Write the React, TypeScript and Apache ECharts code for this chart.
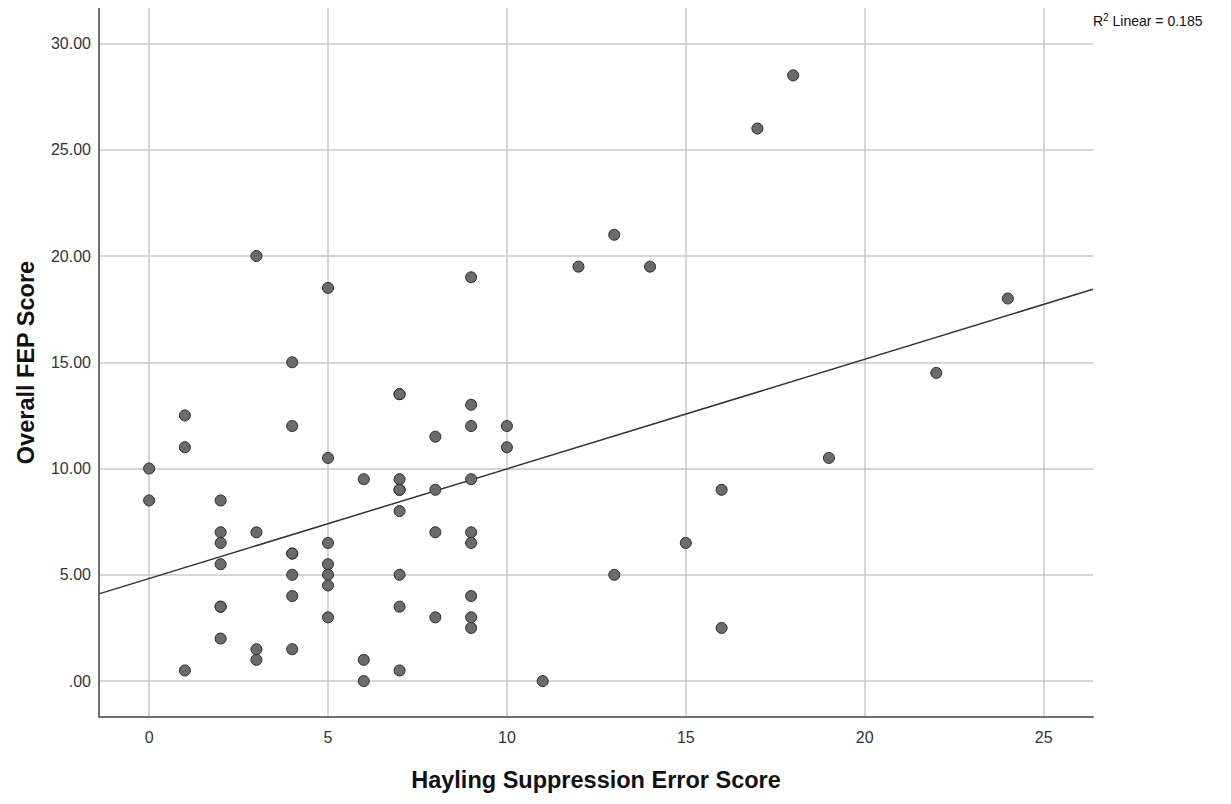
import React, { useEffect, useRef } from "react";
import * as echarts from "echarts";

const xValues = [
  0, 0,
  1, 1, 1,
  2, 2, 2, 2, 2, 2, 2,
  3, 3, 3, 3,
  4, 4, 4, 4, 4, 4, 4,
  5, 5, 5, 5, 5, 5, 5,
  6, 6, 6,
  7, 7, 7, 7, 7, 7, 7, 7, 7,
  8, 8, 8, 8,
  9, 9, 9, 9, 9, 9, 9, 9, 9,
  10, 10,
  11, 12, 13, 13, 14, 15, 16, 16, 17, 18, 19, 22, 24,
];
const yValues = [
  10, 8.5,
  12.5, 11, 0.5,
  8.5, 7, 6.5, 5.5, 3.5, 3.5, 2,
  20, 7, 1.5, 1,
  15, 12, 6, 6, 5, 4, 1.5,
  18.5, 10.5, 6.5, 5.5, 5, 4.5, 3,
  9.5, 1, 0,
  13.5, 13.5, 9.5, 9, 9, 8, 5, 3.5, 0.5,
  11.5, 9, 7, 3,
  19, 13, 12, 9.5, 7, 6.5, 4, 3, 2.5,
  12, 11,
  0, 19.5, 21, 5, 19.5, 6.5, 9, 2.5, 26, 28.5, 10.5, 14.5, 18,
];
const xRange = [-1.4, 26.38];
const yRange = [-1.69, 31.67];
const r2Label = "0.185";

function fit(xs: number[], ys: number[]) {
  const n = Math.min(xs.length, ys.length);
  let sx = 0, sy = 0, sxx = 0, sxy = 0;
  for (let i = 0; i < n; i++) {
    sx += xs[i]; sy += ys[i]; sxx += xs[i] * xs[i]; sxy += xs[i] * ys[i];
  }
  const b = (n * sxy - sx * sy) / (n * sxx - sx * sx);
  const a = (sy - b * sx) / n;
  return { a, b };
}

export default function App() {
  const ref = useRef<HTMLDivElement>(null);
  useEffect(() => {
    if (!ref.current) return;
    const chart = echarts.init(ref.current, undefined, { renderer: "svg" });
    const n = Math.min(xValues.length, yValues.length);
    const pts = [];
    for (let i = 0; i < n; i++) pts.push([xValues[i], yValues[i]]);
    const { a, b } = fit(xValues, yValues);
    const linePts = [
      [xRange[0], a + b * xRange[0]],
      [xRange[1], a + b * xRange[1]],
    ];
    const font = "Arial, 'Liberation Sans', sans-serif";
    chart.setOption({
      animation: false,
      backgroundColor: "#ffffff",
      grid: { left: 91, right: 130, top: 0, bottom: 79, containLabel: false, outerBoundsMode: "none" },
      xAxis: {
        type: "value",
        min: xRange[0],
        max: xRange[1],
        minInterval: 5,
        maxInterval: 5,
        name: "Hayling Suppression Error Score",
        nameLocation: "middle",
        nameGap: 51,
        nameTextStyle: { fontFamily: font, fontSize: 23.5, fontWeight: "bold", color: "#111" },
        axisLine: { show: true, onZero: false, lineStyle: { color: "#6f6f6f", width: 2 } },
        axisTick: { show: false },
        axisLabel: {
          margin: 12,
          fontFamily: font,
          fontSize: 16,
          color: "#333",
          showMinLabel: false,
          showMaxLabel: false,
          formatter: (v: number) => (Math.abs(v % 5) < 1e-9 ? String(v) : ""),
        },
        splitLine: { show: true, showMinLine: false, showMaxLine: false, lineStyle: { color: "#c8c8c8", width: 1.5 } },
      },
      yAxis: {
        type: "value",
        min: yRange[0],
        max: yRange[1],
        minInterval: 5,
        maxInterval: 5,
        name: "Overall FEP Score",
        nameLocation: "middle",
        nameGap: 61,
        nameTextStyle: { fontFamily: font, fontSize: 23.5, fontWeight: "bold", color: "#111" },
        axisLine: { show: true, onZero: false, lineStyle: { color: "#6f6f6f", width: 2 } },
        axisTick: { show: false },
        axisLabel: {
          margin: 8,
          fontFamily: font,
          fontSize: 16,
          color: "#333",
          showMinLabel: false,
          showMaxLabel: false,
          formatter: (v: number) => {
            if (Math.abs(v % 5) > 1e-9) return "";
            return v === 0 ? ".00" : v.toFixed(2);
          },
        },
        splitLine: { show: true, showMinLine: false, showMaxLine: false, lineStyle: { color: "#c8c8c8", width: 1.5 } },
      },
      graphic: [
        {
          type: "text",
          left: 1085,
          top: 4,
          style: {
            text: "{a|R}{s|2}{a| Linear = " + r2Label + "}",
            rich: {
              a: { fontFamily: font, fontSize: 14, fill: "#111", verticalAlign: "bottom" },
              s: { fontFamily: font, fontSize: 10, fill: "#111", verticalAlign: "top", padding: [0, 0, 6, 0] },
            },
          },
        },
      ],
      series: [
        {
          type: "line",
          data: linePts,
          showSymbol: false,
          symbol: "none",
          lineStyle: { color: "#333333", width: 1.5 },
          silent: true,
          z: 3,
        },
        {
          type: "scatter",
          data: pts,
          symbolSize: 11,
          itemStyle: { color: "#6b6b6b", borderColor: "#2a2a2a", borderWidth: 1, opacity: 1 },
          z: 4,
        },
      ],
    });
    return () => chart.dispose();
  }, []);
  return <div ref={ref} style={{ width: 1215, height: 788 }} />;
}
